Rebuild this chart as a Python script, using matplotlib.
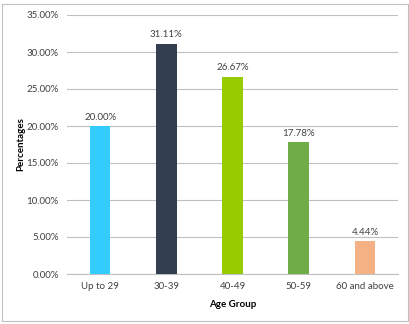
import matplotlib
matplotlib.use('agg')
import matplotlib.pyplot as plt
from matplotlib.patches import Rectangle
from matplotlib.ticker import FuncFormatter

# data
groups = ['Up to 29', '30-39', '40-49', '50-59', '60 and above']
values = [20.00, 31.11, 26.67, 17.78, 4.44]
colors = ['#33CCFF', '#333F50', '#99CC00', '#70AD47', '#F4B183']

plt.rcParams['font.family'] = ['Lato', 'DejaVu Sans']

fig = plt.figure(figsize=(4.10, 3.24), dpi=100)
ax = fig.add_axes([67 / 410, 50 / 324, 331 / 410, 259 / 324])

x = range(len(groups))
bars = ax.bar(x, values, width=0.31, color=colors, zorder=3)
for b, v in zip(bars, values):
    ax.text(b.get_x() + b.get_width() / 2, v + 0.6, '%.2f%%' % v,
            ha='center', va='bottom', fontsize=7, color='#404040')

ax.set_xlim(-0.5, len(groups) - 0.5)
ax.set_ylim(0, 35)
ax.set_yticks(range(0, 36, 5))
ax.yaxis.set_major_formatter(FuncFormatter(lambda v, p: '%.2f%%' % v))
ax.set_xticks(list(x))
ax.set_xticklabels(groups)
ax.tick_params(axis='both', length=0, labelsize=7, colors='#404040', pad=6)
ax.grid(axis='y', color='#BFBFBF', linewidth=0.8, zorder=0)
for s in ['top', 'right', 'left']:
    ax.spines[s].set_visible(False)
ax.spines['bottom'].set_color('#BFBFBF')
ax.set_xlabel('Age Group', fontsize=7, fontweight='bold', labelpad=6)
ax.set_ylabel('Percentages', fontsize=7, fontweight='bold', labelpad=1)

fig.patches.append(Rectangle((2 / 410, 3 / 324), 406 / 410, 317 / 324,
                             transform=fig.transFigure, fill=False,
                             edgecolor='#BFBFBF', linewidth=0.8))

fig.savefig('out.png', dpi=100)
